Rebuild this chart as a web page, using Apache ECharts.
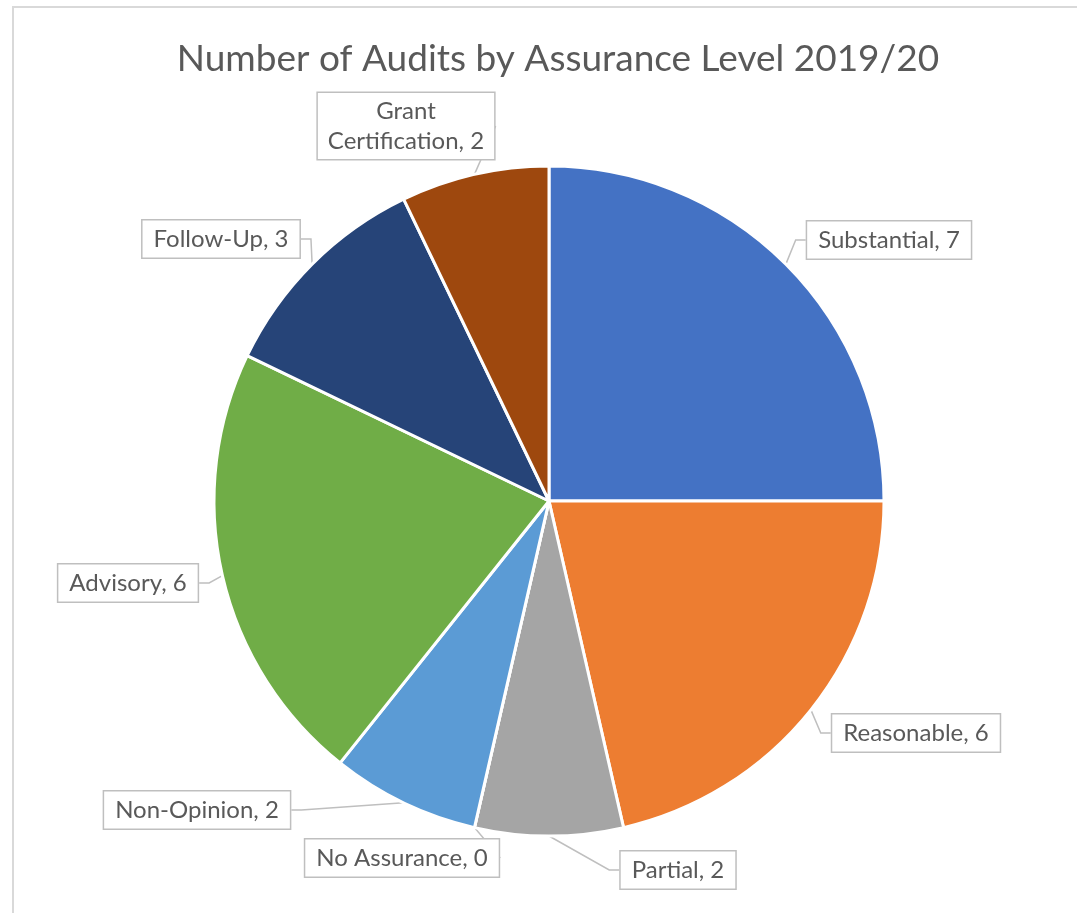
<!DOCTYPE html>
<html>
<head>
<meta charset="utf-8">
<script src="https://cdn.jsdelivr.net/npm/echarts@6/dist/echarts.min.js"></script>
<style>
html,body{margin:0;padding:0;background:#fff;}
#frame{position:absolute;left:12px;top:6px;width:1065px;height:907px;border-left:2px solid #d9d9d9;border-top:2px solid #d9d9d9;}
#chart{position:absolute;left:0;top:0;width:1077px;height:913px;}
</style>
</head>
<body>
<div id="frame"></div>
<div id="chart"></div>
<script>
const titleText = 'Number of Audits by Assurance Level 2019/20';
const categories = ['Substantial','Reasonable','Partial','No Assurance','Non-Opinion','Advisory','Follow-Up','Grant Certification'];
const values = [7,6,2,0,2,6,3,2];
const colors = ['#4472C4','#ED7D31','#A5A5A5','#FFC000','#5B9BD5','#70AD47','#264478','#9E480E'];

// label box centres (layout only)
const labelPos = [[889,240],[916,733],[678,870],[402,858],[197,810],[128,583],[221,239],[406,126]];

const chart = echarts.init(document.getElementById('chart'), null, {renderer:'canvas'});
const data = categories.map((c,i)=>{
  const d = {name:c, value:values[i], itemStyle:{color:colors[i]}};
  if (c === 'Grant Certification') d.label = {formatter: 'Grant\nCertification, {c}', padding:[3,10,3,10], lineHeight:30};
  return d;
});
chart.setOption({
  animation:false,
  title:{
    text:titleText, left:553, top:36, textAlign:'center',
    textStyle:{fontFamily:'Lato', fontWeight:'normal', fontSize:37, color:'#595959'}
  },
  series:[{
    type:'pie',
    center:[549,501],
    radius:[0,335],
    startAngle:90,
    clockwise:true,
    avoidLabelOverlap:false,
    stillShowZeroSum:true,
    itemStyle:{borderColor:'#fff', borderWidth:3},
    label:{
      show:true,
      formatter:'{b}, {c}',
      fontFamily:'Lato', fontSize:24, color:'#595959',
      backgroundColor:'#fff', borderColor:'#bfbfbf', borderWidth:1.5,
      padding:[6,11,5,11], align:'center', lineHeight:26
    },
    labelLine:{show:true, length:20, length2:10, lineStyle:{color:'#bfbfbf', width:1.5}},
    labelLayout:function(p){
      const pos = labelPos[p.dataIndex];
      return {x:pos[0], y:pos[1], align:'center', verticalAlign:'middle'};
    },
    emphasis:{disabled:true},
    data:data
  }]
});
</script>
</body>
</html>
